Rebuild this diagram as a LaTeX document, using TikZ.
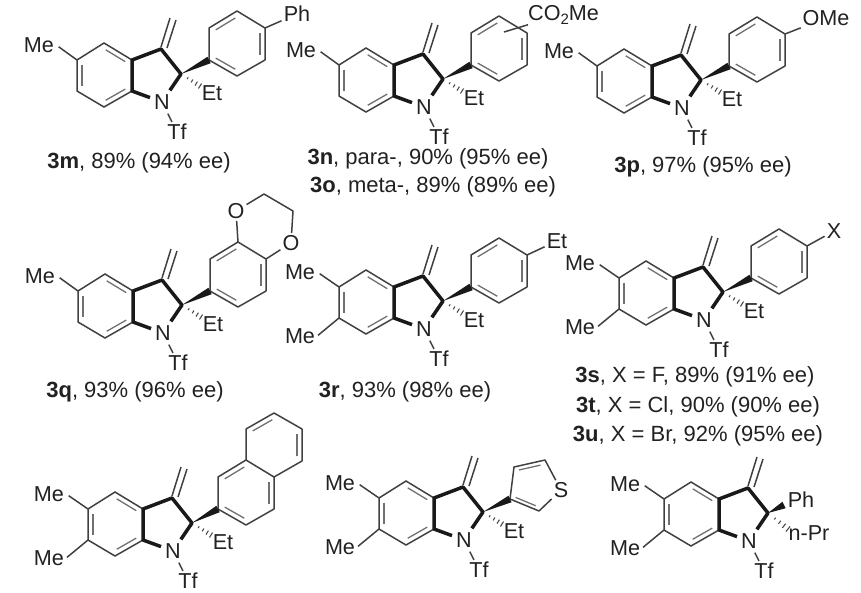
\documentclass[tikz,border=0pt]{standalone}
\usepackage{fontspec}
\setmainfont{Liberation Sans}
\usetikzlibrary{calc}
\definecolor{bondcol}{gray}{0.25}
\definecolor{inkcol}{gray}{0.13}
\tikzset{
    thinbond/.style={line width=1.5pt, bondcol},
    innerline/.style={line width=1.3pt, bondcol!75, shorten >=2pt, shorten <=2pt},
    boldbond/.style={line width=3.5pt, black!90, line join=round},
    hashline/.style={line width=1pt, bondcol},
    atom/.style={font=\fontsize{21.6}{25}\selectfont, text=inkcol, inner sep=2pt},
    ncenter/.style={atom, inner sep=4pt},
    caption/.style={font=\fontsize{22}{26}\selectfont, text=inkcol, inner sep=0pt}
}
\newcommand{\innerbond}[3]{\draw[innerline] ($(#3)!0.82!(#1)$) -- ($(#3)!0.82!(#2)$);}
\newcommand{\indoline}{
    \coordinate (c2) at (0,0);
    \coordinate (c3) at (-20,-25);
    \coordinate (c3a) at (-49,-14);
    \coordinate (c4) at (-77,-31);
    \coordinate (c5) at (-104,-14);
    \coordinate (c6) at (-104,17);
    \coordinate (c7) at (-77,33);
    \coordinate (c7a) at (-49,17);
    \coordinate (cben) at (-77,1);
    \coordinate (ch2la) at (-20,-27);
    \coordinate (ch2lb) at (-11,-56);
    \coordinate (ch2ra) at (-14,-26);
    \coordinate (ch2rb) at (-5,-54);
    \node[ncenter] (n) at (-19,28) {N};
    \node[atom] (tf) at (-4,58) {Tf};
    \draw[thinbond] (c3a) -- (c4) -- (c5) -- (c6) -- (c7) -- (c7a);
    \innerbond{c4}{c3a}{cben}
    \innerbond{c5}{c6}{cben}
    \innerbond{c7}{c7a}{cben}
    \draw[boldbond] (n) -- (c2) -- (c3) -- (c3a) -- (c7a) -- (n);
    \draw[thinbond] (ch2la) -- (ch2lb);
    \draw[thinbond] (ch2ra) -- (ch2rb);
    \draw[thinbond] (n) -- (tf);
}
\newcommand{\onemethyl}{
    \node[atom] (me) at (-142,-29) {Me};
    \draw[thinbond, shorten >=3pt] (c5) -- (me.east);
}
\newcommand{\twomethyl}{
    \node[atom] (me) at (-143,-29) {Me};
    \node[atom] (mesec) at (-143,35) {Me};
    \draw[thinbond, shorten >=3pt] (c5) -- (me.east);
    \draw[thinbond, shorten >=1pt] (c6) -- (mesec.east);
}
\newcommand{\arylring}{
    \coordinate (a1) at (28,-14);
    \coordinate (a2) at (28,-46);
    \coordinate (a3) at (56,-63);
    \coordinate (a4) at (84,-46);
    \coordinate (a5) at (84,-14);
    \coordinate (a6) at (56,2);
    \coordinate (aben) at (56,-30);
    \draw[thinbond, line join=round] (a1) -- (a2) -- (a3) -- (a4) -- (a5) -- (a6) -- cycle;
    \innerbond{a2}{a3}{aben}
    \innerbond{a4}{a5}{aben}
    \innerbond{a6}{a1}{aben}
}
\newcommand{\wedgebond}{\fill[black!90] (c2) -- ($(a1)!3.6pt!90:(c2)$) -- ($(a1)!3.6pt!-90:(c2)$) -- cycle;}
\newcommand{\hashbond}[2]{
    \foreach \t in {0.35,0.58,0.8,1}{
        \draw[hashline] ({#1*\t+#2*0.13*\t},{#2*\t-#1*0.13*\t}) -- ({#1*\t-#2*0.13*\t},{#2*\t+#1*0.13*\t});
    }
}
\newcommand{\ethyl}{\node[atom] (et) at (31,19) {Et};}
\begin{document}
\begin{tikzpicture}[x=1pt, y=-1pt]
    \useasboundingbox (0,0) rectangle (861,592);

    \begin{scope}[shift={(181,74)}, name prefix=m-]
        \indoline \onemethyl \arylring \wedgebond \hashbond{19}{12} \ethyl
        \node[atom] (ph) at (116,-60) {Ph};
        \draw[thinbond] (a4) -- (ph);
    \end{scope}
    \node[caption] (capm) at (139,163) {\textbf{3m}, 89\% (94\% ee)};

    \begin{scope}[shift={(443,79)}, name prefix=n-]
        \indoline \onemethyl \arylring \wedgebond \hashbond{19}{12} \ethyl
        \coordinate (subst) at (61,-47);
        \node[atom, anchor=west, inner sep=0pt] (co) at (85,-64) {CO\raisebox{-4pt}{\fontsize{15}{15}\selectfont 2}Me};
        \draw[thinbond] (subst) -- (co.south west);
    \end{scope}
    \node[caption] (capn) at (428,159) {\textbf{3n}, para-, 90\% (95\% ee)};
    \node[caption] (capo) at (433,187) {\textbf{3o}, meta-, 89\% (89\% ee)};

    \begin{scope}[shift={(701,80)}, name prefix=p-]
        \indoline \onemethyl \arylring \wedgebond \hashbond{19}{12} \ethyl
        \node[atom] (ome) at (125,-62) {OMe};
        \draw[thinbond] (a4) -- (ome);
    \end{scope}
    \node[caption] (capp) at (703,167) {\textbf{3p}, 97\% (95\% ee)};

    \begin{scope}[shift={(182,305)}, name prefix=q-]
        \indoline \onemethyl \arylring \wedgebond \hashbond{19}{12} \ethyl
        \node[atom] (ofirst) at (54,-94) {O};
        \node[atom] (osec) at (109,-62) {O};
        \coordinate (tl) at (82,-111);
        \coordinate (tr) at (111,-94);
        \draw[thinbond, line join=round] (a3) -- (ofirst) -- (tl) -- (tr) -- (osec) -- (a4);
    \end{scope}
    \node[caption] (capq) at (135,392) {\textbf{3q}, 93\% (96\% ee)};

    \begin{scope}[shift={(443,301)}, name prefix=r-]
        \indoline \twomethyl \arylring \wedgebond \hashbond{19}{12} \ethyl
        \node[atom] (etar) at (114,-60) {Et};
        \draw[thinbond] (a4) -- (etar);
    \end{scope}
    \node[caption] (capr) at (405,392) {\textbf{3r}, 93\% (98\% ee)};

    \begin{scope}[shift={(723,292)}, name prefix=s-]
        \indoline \twomethyl \arylring \wedgebond \hashbond{19}{12} \ethyl
        \node[atom] (xsub) at (111,-61) {X};
        \draw[thinbond] (a4) -- (xsub);
    \end{scope}
    \node[caption] (caps) at (695,377) {\textbf{3s}, X = F, 89\% (91\% ee)};
    \node[caption] (capt) at (698,407) {\textbf{3t}, X = Cl, 90\% (90\% ee)};
    \node[caption] (capu) at (698,436) {\textbf{3u}, X = Br, 92\% (95\% ee)};

    \begin{scope}[shift={(192,523)}, name prefix=v-]
        \indoline \twomethyl
        \begin{scope}[xshift=-2pt]
            \arylring
            \coordinate (b1) at (112,-62);
            \coordinate (b2) at (112,-94);
            \coordinate (b3) at (84,-110);
            \coordinate (b4) at (56,-94);
            \coordinate (bben) at (84,-78);
            \draw[thinbond, line join=round] (a3) -- (b4) -- (b3) -- (b2) -- (b1) -- (a4);
            \innerbond{b4}{b3}{bben}
            \innerbond{b1}{b2}{bben}
        \end{scope}
        \wedgebond \hashbond{19}{12} \ethyl
    \end{scope}

    \begin{scope}[shift={(483,512)}, name prefix=w-]
        \indoline \twomethyl \ethyl
        \coordinate (a1) at (27,-13);
        \coordinate (t2) at (31,-45);
        \coordinate (t3) at (62,-52);
        \coordinate (t5) at (56,-1);
        \coordinate (tben) at (48,-26);
        \node[atom] (sulf) at (78,-22) {S};
        \draw[thinbond, line join=round] (t5) -- (a1) -- (t2) -- (t3) -- (sulf) -- (t5);
        \innerbond{t2}{t3}{tben}
        \innerbond{a1}{t5}{tben}
        \wedgebond \hashbond{19}{12}
    \end{scope}

    \begin{scope}[shift={(768,513)}, name prefix=z-]
        \indoline \twomethyl
        \coordinate (a1) at (16,-8);
        \node[atom] (ph) at (33,-13) {Ph};
        \node[atom] (npr) at (41,20) {n-Pr};
        \wedgebond \hashbond{20}{16}
    \end{scope}
\end{tikzpicture}
\end{document}
